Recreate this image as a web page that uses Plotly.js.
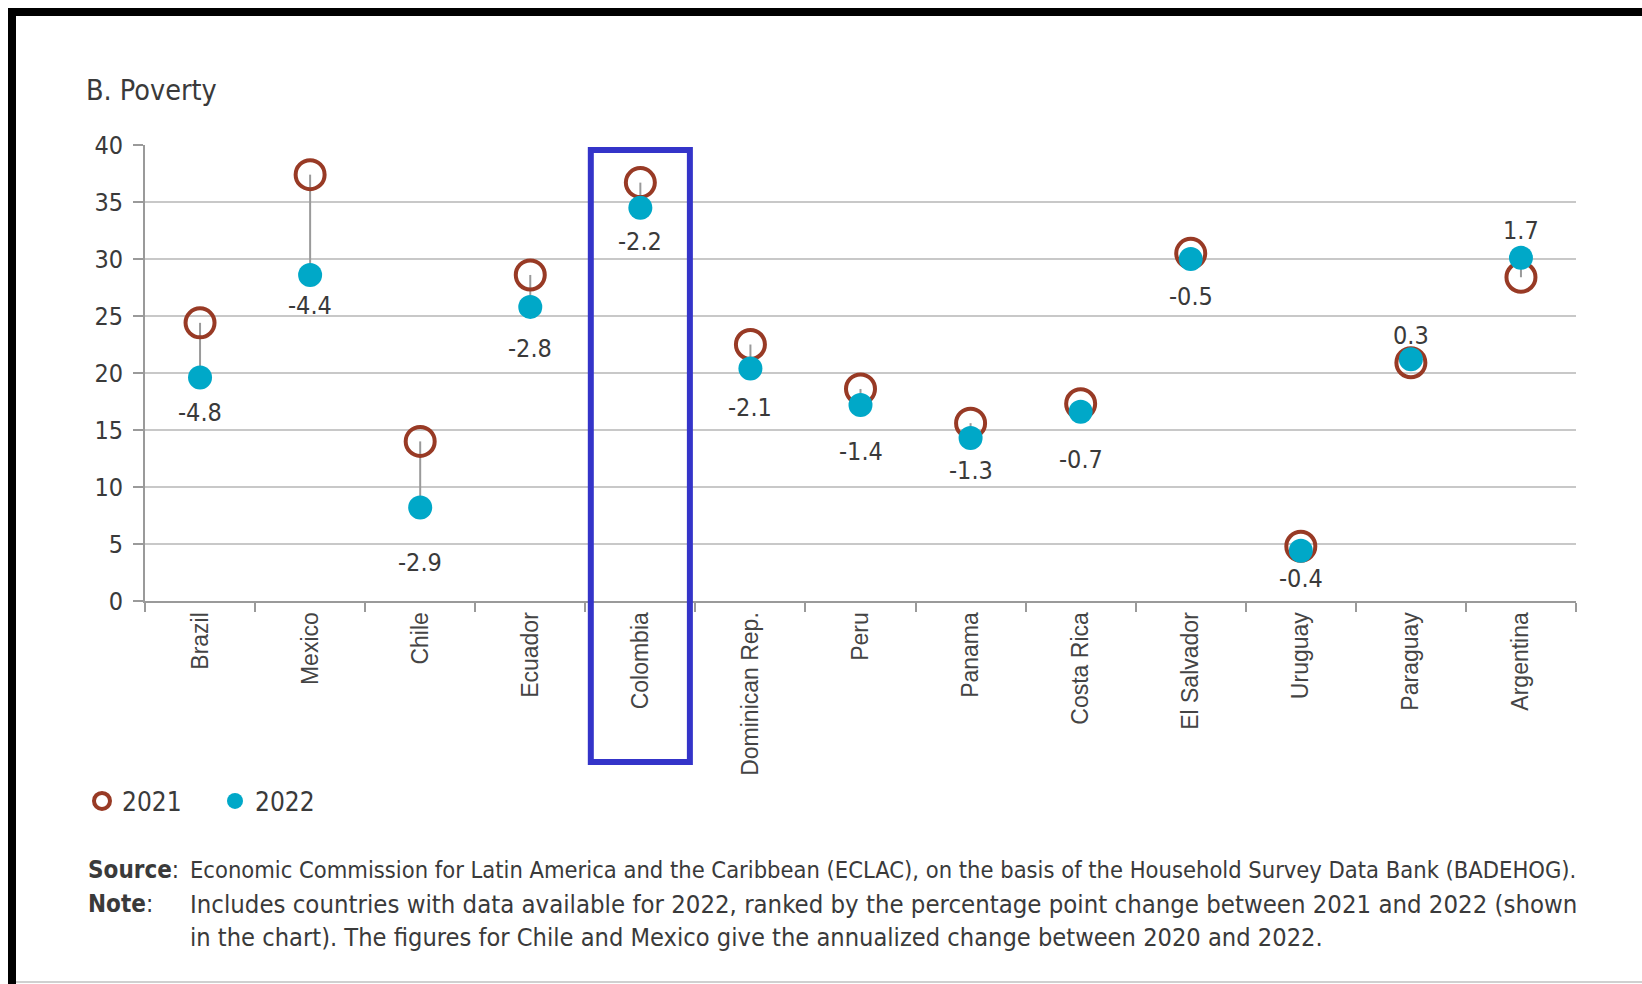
<!DOCTYPE html>
<html>
<head>
<meta charset="utf-8">
<script src="https://cdn.plot.ly/plotly-3.0.1.min.js"></script>
<style>
  html, body { margin: 0; padding: 0; background: #ffffff; }
  #chart { width: 1642px; height: 984px; }
</style>
</head>
<body>
<div id="chart"></div>
<script>
// ---------------- data ----------------
const countries = ['Brazil', 'Mexico', 'Chile', 'Ecuador', 'Colombia', 'Dominican Rep.', 'Peru',
                   'Panama', 'Costa Rica', 'El Salvador', 'Uruguay', 'Paraguay', 'Argentina'];
const poverty2021 = [24.4, 37.4, 14.0, 28.6, 36.7, 22.5, 18.6, 15.6, 17.3, 30.5, 4.8, 20.9, 28.4];
const poverty2022 = [19.6, 28.6, 8.2, 25.8, 34.5, 20.4, 17.2, 14.3, 16.6, 30.0, 4.4, 21.2, 30.1];
const changeLabels = ['-4.8', '-4.4', '-2.9', '-2.8', '-2.2', '-2.1', '-1.4', '-1.3', '-0.7', '-0.5', '-0.4', '0.3', '1.7'];
const yTickValues = [0, 5, 10, 15, 20, 25, 30, 35, 40];
const seriesNames = ['2021', '2022'];
const chartTitle = 'B. Poverty';
const sourceText = 'Economic Commission for Latin America and the Caribbean (ECLAC), on the basis of the Household Survey Data Bank (BADEHOG).';
const noteLine1 = 'Includes countries with data available for 2022, ranked by the percentage point change between 2021 and 2022 (shown';
const noteLine2 = 'in the chart). The figures for Chile and Mexico give the annualized change between 2020 and 2022.';
const highlighted = 'Colombia';

// ---------------- layout helpers (positions / styles) ----------------
const W = 1642, H = 984;
const M = { l: 145, r: 66, t: 145, b: 383 };
const PW = W - M.l - M.r, PH = H - M.t - M.b;
const px = x => (x - M.l) / PW;            // pixel x -> paper x
const py = y => (H - M.b - y) / PH;        // pixel y -> paper y

const narrow = '"DejaVu Sans Condensed", "Liberation Sans Narrow", sans-serif';
const regular = '"Liberation Sans", Arial, sans-serif';
const textColor = '#3a3a3a';
const brown = '#983a25';
const teal = '#00a8c8';
const grey = '#9a9a9a';

// vertical pixel offsets of the change labels relative to the 2022 point
const labelShift = [-35, -31, -55, -42, -34, -39, -47, -33, -48, -37, -28, 24, 27];

// connector segments built from the two series
const segX = [], segY = [];
countries.forEach((c, i) => { segX.push(c, c, null); segY.push(poverty2021[i], poverty2022[i], null); });

const traces = [
  {
    type: 'scatter', mode: 'lines', x: segX, y: segY,
    line: { color: grey, width: 2 }, showlegend: false, hoverinfo: 'skip', cliponaxis: false
  },
  {
    type: 'scatter', mode: 'markers', name: seriesNames[0], x: countries, y: poverty2021,
    marker: { symbol: 'circle-open', size: 29, color: brown, line: { color: brown, width: 4 } },
    cliponaxis: false, hoverinfo: 'x+y'
  },
  {
    type: 'scatter', mode: 'markers', name: seriesNames[1], x: countries, y: poverty2022,
    marker: { symbol: 'circle', size: 24, color: teal, line: { width: 0 } },
    cliponaxis: false, hoverinfo: 'x+y'
  }
];

const annotations = countries.map((c, i) => ({
  x: c, y: poverty2022[i], xref: 'x', yref: 'y', text: changeLabels[i],
  showarrow: false, xanchor: 'center', yanchor: 'middle', yshift: labelShift[i],
  font: { family: narrow, size: 25, color: textColor }
}));

const footFont = { family: narrow, size: 25.2, color: textColor };
const footFont2 = { family: narrow, size: 25.5, color: textColor };
const footFont1 = { family: narrow, size: 23.5, color: textColor };
const headFont = { family: narrow, size: 24, color: textColor };
annotations.push(
  { xref: 'paper', yref: 'paper', x: px(86), y: py(870), xanchor: 'left', yanchor: 'middle', showarrow: false,
    text: '<b>Source</b>:', font: headFont },
  { xref: 'paper', yref: 'paper', x: px(86), y: py(904), xanchor: 'left', yanchor: 'middle', showarrow: false,
    text: '<b>Note</b>:', font: headFont },
  { xref: 'paper', yref: 'paper', x: px(188), y: py(870), xanchor: 'left', yanchor: 'middle', showarrow: false,
    text: sourceText, font: footFont1 },
  { xref: 'paper', yref: 'paper', x: px(188), y: py(904), xanchor: 'left', yanchor: 'middle', showarrow: false,
    text: noteLine1, font: footFont2 },
  { xref: 'paper', yref: 'paper', x: px(188), y: py(937), xanchor: 'left', yanchor: 'middle', showarrow: false,
    text: noteLine2, font: footFont }
);

const hi = countries.indexOf(highlighted);
const shapes = [
  // highlight box around the selected country
  { type: 'rect', xref: 'x', yref: 'paper', x0: hi - 0.45, x1: hi + 0.45, y0: py(762), y1: py(150),
    line: { color: '#3434c9', width: 6 }, fillcolor: 'rgba(0,0,0,0)', layer: 'above' },
  // frame
  { type: 'rect', xref: 'paper', yref: 'paper', x0: px(8), x1: px(W), y0: py(16), y1: py(8),
    line: { width: 0 }, fillcolor: '#000000', layer: 'above' },
  { type: 'rect', xref: 'paper', yref: 'paper', x0: px(8), x1: px(16), y0: py(H), y1: py(8),
    line: { width: 0 }, fillcolor: '#000000', layer: 'above' },
  { type: 'line', xref: 'paper', yref: 'paper', x0: px(16), x1: px(W), y0: py(982), y1: py(982),
    line: { width: 2, color: '#d0d0d0' }, layer: 'above' }
];

const layout = {
  width: W, height: H,
  margin: M,
  paper_bgcolor: '#ffffff', plot_bgcolor: '#ffffff',
  title: {
    text: chartTitle, xref: 'container', yref: 'container',
    x: 86 / W, xanchor: 'left', y: 1 - 90 / H, yanchor: 'middle',
    font: { family: narrow, size: 28.5, color: textColor }
  },
  showlegend: true,
  legend: {
    orientation: 'h', x: px(82), y: py(801), xanchor: 'left', yanchor: 'middle',
    font: { family: narrow, size: 26, color: textColor },
    entrywidth: 88, entrywidthmode: 'pixels', itemclick: false, itemdoubleclick: false,
    bgcolor: 'rgba(0,0,0,0)'
  },
  xaxis: {
    type: 'category', categoryorder: 'array', categoryarray: countries,
    range: [-0.5, countries.length - 0.5], fixedrange: true,
    showline: true, linecolor: grey, linewidth: 2,
    ticks: 'outside', tickson: 'boundaries', ticklen: 9, tickwidth: 2, tickcolor: grey,
    tickangle: -90, showgrid: false, zeroline: false,
    tickfont: { family: regular, size: 23, color: '#444444' }
  },
  yaxis: {
    range: [0, 40], tickmode: 'array', tickvals: yTickValues, ticktext: yTickValues.map(String),
    fixedrange: true,
    showgrid: true, gridcolor: '#c8c8c8', gridwidth: 2, zeroline: false,
    showline: true, linecolor: grey, linewidth: 2,
    ticks: 'outside', ticklen: 10, tickwidth: 2, tickcolor: grey, ticklabelstandoff: 5,
    tickfont: { family: narrow, size: 25, color: textColor }
  },
  annotations: annotations,
  shapes: shapes
};

Plotly.newPlot('chart', traces, layout, { displayModeBar: false, staticPlot: false, responsive: false });
</script>
</body>
</html>
